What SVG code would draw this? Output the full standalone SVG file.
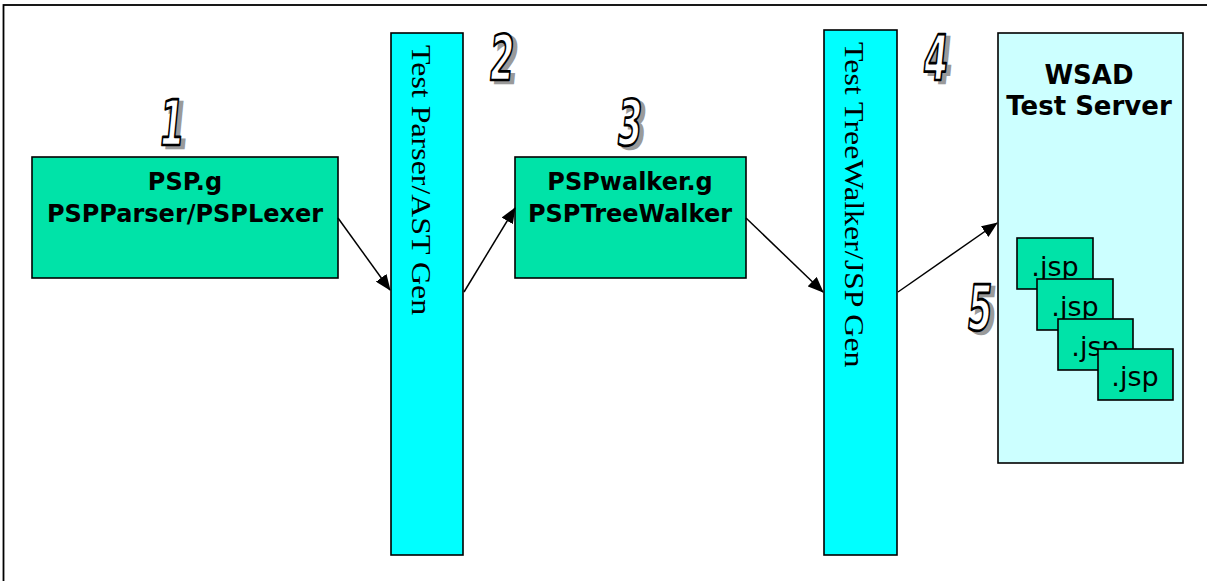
<svg xmlns="http://www.w3.org/2000/svg" width="1207" height="581" viewBox="0 0 1207 581">
  <style>
    .box { stroke: #000; stroke-width: 1.6; }
    .green { fill: #00E3A8; }
    .cyan { fill: #00FFFF; }
    .pale { fill: #CCFFFF; }
    .bold { font-family: "DejaVu Sans", Verdana, sans-serif; font-weight: bold; font-size: 24px; fill: #000; text-anchor: middle; }
    .jsp { font-family: "DejaVu Sans", Verdana, sans-serif; font-size: 27px; fill: #000; text-anchor: middle; }
    .vert { font-family: "Liberation Serif", "Times New Roman", serif; font-size: 28px; fill: #000; }
    .num { font-family: "DejaVu Sans", sans-serif; font-weight: bold; font-size: 35px; text-anchor: middle; }
    .num-face { fill: #fff; stroke: #000; stroke-width: 1.5; stroke-linejoin: round; }
    .num-shadow { fill: #9a9a9a; stroke: #9a9a9a; stroke-width: 1.5; }
    .conn { stroke: #000; stroke-width: 1.5; fill: none; }
  </style>
  <defs>
    <marker id="arrow" viewBox="0 0 16 13" refX="15" refY="6.5" markerWidth="16" markerHeight="13" markerUnits="userSpaceOnUse" orient="auto">
      <path d="M0,0 L16,6.5 L0,13 Z" fill="#000"/>
    </marker>
  </defs>

  <!-- outer frame -->
  <rect x="3.5" y="5" width="1220" height="600" fill="#fff" stroke="#000" stroke-width="1.8"/>

  <!-- step 1: grammar / parser + lexer -->
  <g id="node-psp">
    <rect class="box green" x="32" y="157" width="306" height="121"/>
    <text class="bold" x="185" y="190">PSP.g</text>
    <text class="bold" x="185" y="222">PSPParser/PSPLexer</text>
  </g>

  <!-- step 2: parser test bar -->
  <g id="node-test-parser">
    <rect class="box cyan" x="391" y="33" width="72" height="522"/>
    <text class="vert" transform="translate(412,45) rotate(90) scale(1.14,1)">Test Parser/AST Gen</text>
  </g>

  <!-- step 3: tree walker grammar -->
  <g id="node-pspwalker">
    <rect class="box green" x="515" y="157" width="231" height="121"/>
    <text class="bold" x="630" y="190">PSPwalker.g</text>
    <text class="bold" x="630" y="222">PSPTreeWalker</text>
  </g>

  <!-- step 4: tree walker test bar -->
  <g id="node-test-treewalker">
    <rect class="box cyan" x="824" y="30" width="73" height="525"/>
    <text class="vert" transform="translate(845,42) rotate(90) scale(1.14,1)">Test TreeWalker/JSP Gen</text>
  </g>

  <!-- step 5: test server with generated pages -->
  <g id="node-wsad">
    <rect class="box pale" x="998" y="33" width="185" height="430"/>
    <text class="bold" x="1089" y="84" style="font-size:26px">WSAD</text>
    <text class="bold" x="1089" y="115" style="font-size:26px">Test Server</text>
  </g>
  <g id="node-jsp-1">
    <rect class="box green" x="1017" y="238" width="76" height="51"/>
    <text class="jsp" x="1055" y="276">.jsp</text>
  </g>
  <g id="node-jsp-2">
    <rect class="box green" x="1037" y="279" width="76" height="51"/>
    <text class="jsp" x="1075" y="316">.jsp</text>
  </g>
  <g id="node-jsp-3">
    <rect class="box green" x="1058" y="319" width="75" height="51"/>
    <text class="jsp" x="1095" y="356">.jsp</text>
  </g>
  <g id="node-jsp-4">
    <rect class="box green" x="1098" y="349" width="75" height="51"/>
    <text class="jsp" x="1135" y="386">.jsp</text>
  </g>

  <!-- step numbers: outlined italic digits with a drop shadow -->
  <g id="step-numbers" class="num">
    <g transform="translate(170,145) scale(1,1.8) skewX(-10)">
      <text class="num-shadow" x="4.5" y="1.5">1</text>
      <text class="num-face" x="0" y="0">1</text>
    </g>
    <g transform="translate(500,80) scale(1,1.8) skewX(-10)">
      <text class="num-shadow" x="4.5" y="1.5">2</text>
      <text class="num-face" x="0" y="0">2</text>
    </g>
    <g transform="translate(628,145) scale(1,1.8) skewX(-10)">
      <text class="num-shadow" x="4.5" y="1.5">3</text>
      <text class="num-face" x="0" y="0">3</text>
    </g>
    <g transform="translate(934,80) scale(1,1.8) skewX(-10)">
      <text class="num-shadow" x="4.5" y="1.5">4</text>
      <text class="num-face" x="0" y="0">4</text>
    </g>
    <g transform="translate(978,330) scale(1,1.8) skewX(-10)">
      <text class="num-shadow" x="4.5" y="1.5">5</text>
      <text class="num-face" x="0" y="0">5</text>
    </g>
  </g>

  <!-- connectors -->
  <g id="connectors">
    <line class="conn" x1="338" y1="218" x2="390" y2="290" marker-end="url(#arrow)"/>
    <line class="conn" x1="464" y1="292" x2="515" y2="208" marker-end="url(#arrow)"/>
    <line class="conn" x1="746" y1="218" x2="823" y2="292" marker-end="url(#arrow)"/>
    <line class="conn" x1="898" y1="292" x2="997" y2="223" marker-end="url(#arrow)"/>
  </g>
</svg>
